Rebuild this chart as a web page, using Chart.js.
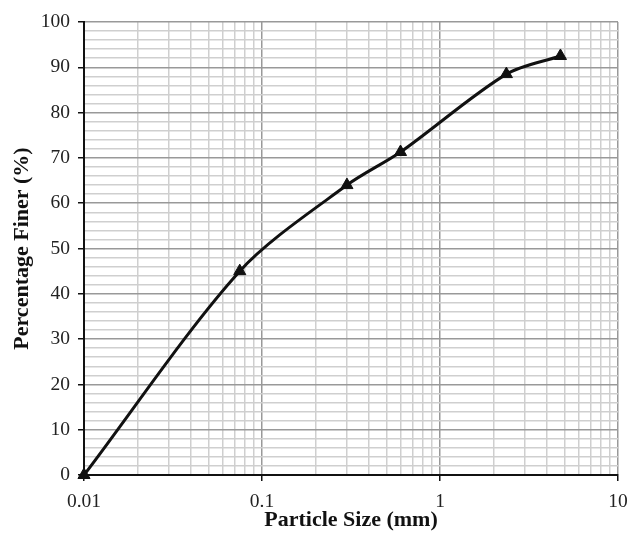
<!DOCTYPE html>
<html>
<head>
<meta charset="utf-8">
<script src="https://cdn.jsdelivr.net/npm/chart.js@4"></script>
<style>
  html, body { margin: 0; padding: 0; background: #fff; }
  #wrap { width: 630px; height: 536px; }
</style>
</head>
<body>
<div id="wrap"><canvas id="grading"></canvas></div>
<script>
// sieve analysis data
var sizes = [0.01, 0.075, 0.3, 0.6, 2.36, 4.75];
var finer = [0, 45, 64, 71.3, 88.5, 92.5];

var xDecades = [0.01, 0.1, 1, 10];
var xMinorSteps = [2, 3, 4, 5, 6, 7, 8, 9];
var yMin = 0, yMax = 100, yMinorStep = 2, yMajorStep = 10;

var xGrid = [];
xDecades.forEach(function (d, i) {
  xGrid.push(d);
  if (i < xDecades.length - 1) {
    xMinorSteps.forEach(function (m) { xGrid.push(+(d * m).toPrecision(3)); });
  }
});

function isDecade(v) {
  return xDecades.some(function (d) { return Math.abs(d - v) < d * 1e-6; });
}

Chart.defaults.font.family = "'Liberation Serif', 'DejaVu Serif', serif";
Chart.defaults.color = '#222';

var ctx = document.getElementById('grading');
var grading = new Chart(ctx, {
  type: 'line',
  data: {
    datasets: [{
      label: 'Grading',
      data: sizes.map(function (s, i) { return { x: s, y: finer[i] }; }),
      borderColor: '#111',
      backgroundColor: '#111',
      borderWidth: 3,
      tension: 0.3,
      pointStyle: 'triangle',
      pointRadius: 7,
      pointBorderWidth: 1,
      pointBackgroundColor: '#111',
      pointBorderColor: '#111',
      clip: false
    }]
  },
  options: {
    responsive: true,
    maintainAspectRatio: false,
    animation: false,
    layout: { padding: { top: 22, right: 12, left: 0, bottom: 0 } },
    plugins: {
      legend: { display: false },
      tooltip: { enabled: false }
    },
    scales: {
      x: {
        type: 'logarithmic',
        min: 0.01,
        max: 10,
        afterBuildTicks: function (scale) {
          scale.ticks = xGrid.map(function (v) { return { value: v, major: isDecade(v) }; });
        },
        afterFit: function (scale) {
          scale.height = 61;
          scale.paddingLeft = 0;
          scale.paddingRight = 0;
        },
        border: { color: '#111', width: 2 },
        grid: {
          color: function (c) { return isDecade(c.tick.value) ? '#999' : '#cfcfcf'; },
          lineWidth: 1.5,
          tickLength: 6,
          tickColor: function (c) { return isDecade(c.tick.value) ? '#111' : 'rgba(0,0,0,0)'; }
        },
        ticks: {
          autoSkip: false,
          maxRotation: 0,
          padding: 9,
          font: { size: 19.5 },
          callback: function (v) { return isDecade(v) ? String(+v.toPrecision(3)) : ''; }
        },
        title: {
          display: true,
          text: 'Particle Size (mm)',
          font: { size: 22, weight: 'bold' },
          color: '#111',
          padding: { top: 0, bottom: 2 }
        }
      },
      y: {
        min: yMin,
        max: yMax,
        afterFit: function (scale) {
          scale.width = 84;
          scale.paddingTop = 0;
          scale.paddingBottom = 0;
        },
        border: { color: '#111', width: 2 },
        grid: {
          color: function (c) { return c.tick.value % yMajorStep === 0 ? '#999' : '#cfcfcf'; },
          lineWidth: 1.5,
          tickLength: 6,
          tickColor: function (c) { return c.tick.value % yMajorStep === 0 ? '#111' : 'rgba(0,0,0,0)'; }
        },
        ticks: {
          stepSize: yMinorStep,
          autoSkip: false,
          padding: 8,
          font: { size: 19.5 },
          callback: function (v) { return v % yMajorStep === 0 ? v : ''; }
        },
        title: {
          display: true,
          text: 'Percentage Finer (%)',
          font: { size: 22, weight: 'bold' },
          color: '#111',
          padding: { top: 9, bottom: 0 }
        }
      }
    }
  }
});
</script>
</body>
</html>
